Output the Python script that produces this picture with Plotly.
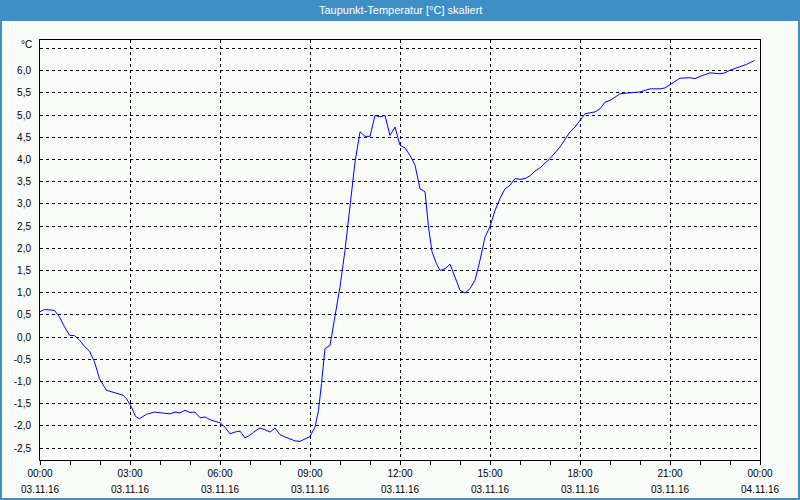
import pandas as pd
import plotly.graph_objects as go

# Data: minutes after 03.11.16 00:00, dew point in °C
minutes = [0, 9, 29, 39, 49, 59, 69, 79, 89, 99, 109, 119, 133, 149, 166, 173, 183, 191, 199, 213,
           229, 243, 260, 270, 280, 290, 300, 310, 320, 330, 340, 350, 360, 370, 380, 390, 400, 410,
           420, 430, 440, 450, 460, 470, 480, 490, 500, 510, 520, 530, 540, 550, 557, 563, 570, 580,
           590, 600, 610, 620, 630, 640, 650, 660, 670, 680, 690, 700, 710, 720, 730, 740, 750, 760,
           770, 777, 784, 793, 800, 810, 820, 830, 840, 850, 860, 870, 880, 890, 900, 910, 920, 930,
           940, 950, 960, 970, 980, 990, 1000, 1020, 1040, 1060, 1070, 1080, 1090, 1110, 1120, 1130,
           1140, 1150, 1160, 1180, 1200, 1220, 1240, 1250, 1260, 1280, 1300, 1310, 1320, 1340, 1360,
           1370, 1380, 1400, 1413, 1429]
values = [0.57, 0.62, 0.60, 0.45, 0.23, 0.04, 0.03, -0.07, -0.21, -0.32, -0.56, -0.94, -1.20, -1.26,
          -1.31, -1.39, -1.58, -1.79, -1.84, -1.74, -1.69, -1.71, -1.73, -1.69, -1.71, -1.65, -1.70,
          -1.69, -1.82, -1.80, -1.86, -1.90, -1.93, -2.03, -2.18, -2.14, -2.12, -2.27, -2.21, -2.12,
          -2.05, -2.09, -2.14, -2.05, -2.20, -2.25, -2.29, -2.34, -2.35, -2.30, -2.24, -2.03, -1.65,
          -1.05, -0.26, -0.19, 0.45, 1.13, 1.95, 2.93, 3.94, 4.62, 4.52, 4.52, 4.99, 4.96, 4.99, 4.54,
          4.73, 4.32, 4.26, 4.09, 3.87, 3.34, 3.27, 2.48, 1.92, 1.65, 1.50, 1.54, 1.64, 1.35, 1.05,
          0.99, 1.09, 1.28, 1.73, 2.25, 2.49, 2.85, 3.12, 3.34, 3.42, 3.57, 3.55, 3.57, 3.63, 3.74,
          3.81, 4.02, 4.28, 4.62, 4.73, 4.88, 5.03, 5.07, 5.14, 5.29, 5.33, 5.40, 5.48, 5.50, 5.52,
          5.59, 5.59, 5.61, 5.69, 5.83, 5.84, 5.82, 5.87, 5.95, 5.93, 5.95, 6.01, 6.08, 6.14, 6.23]

y_ticks = [-2.5, -2.0, -1.5, -1.0, -0.5, 0.0, 0.5, 1.0, 1.5, 2.0, 2.5, 3.0, 3.5, 4.0, 4.5, 5.0, 5.5, 6.0]
y_labels = [f"{v:.1f}".replace(".", ",") for v in y_ticks]
title_text = "Taupunkt-Temperatur [°C] skaliert"
unit_text = "°C"

start = pd.Timestamp("2016-11-03 00:00")
x = [start + pd.Timedelta(minutes=m) for m in minutes]
x_ticks = [start + pd.Timedelta(hours=h) for h in range(0, 25, 3)]
x_time_labels = [t.strftime("%H:%M") for t in x_ticks]
x_date_labels = [t.strftime("%d.%m.%y") for t in x_ticks]

BG = "#fafcfa"
BLUE = "#3d8fc6"
FONT = "Liberation Sans"

fig = go.Figure()
fig.add_trace(go.Scatter(x=x, y=values, mode="lines",
                         line=dict(color="#0000ff", width=1), hoverinfo="skip"))

fig.update_layout(
    width=800, height=500,
    margin=dict(l=40, r=40, t=40, b=40),
    paper_bgcolor=BG, plot_bgcolor=BG,
    showlegend=False,
    font=dict(family=FONT, size=10, color="#000000"),
)

fig.update_xaxes(
    range=[x_ticks[0], x_ticks[-1]],
    tickmode="array", tickvals=x_ticks, ticktext=x_time_labels,
    ticks="outside", ticklen=4, tickcolor="#000000",
    minor=dict(dtick=3600000, ticks="outside", ticklen=4, tickcolor="#000000", showgrid=False),
    showgrid=True, gridcolor="#000000", gridwidth=1, griddash="3px,3px",
    showline=True, linecolor="#000000", linewidth=1, mirror=True,
    zeroline=False, ticklabelstandoff=0,
)
fig.update_yaxes(
    range=[-2.77, 6.69],
    tickmode="array", tickvals=y_ticks + [6.5], ticktext=y_labels + [""],
    ticks="", ticklabelstandoff=6,
    showgrid=True, gridcolor="#000000", gridwidth=1, griddash="3px,3px",
    showline=True, linecolor="#000000", linewidth=1, mirror=True,
    zeroline=False,
)

# title bar and window frame
fig.add_shape(type="rect", xref="paper", yref="paper",
              x0=-40 / 720, x1=1 + 40 / 720, y0=1 + 20 / 420, y1=1 + 40 / 420,
              fillcolor=BLUE, line=dict(width=0), layer="below")
fig.add_shape(type="rect", xref="paper", yref="paper",
              x0=-40 / 720 + 1 / 720, x1=1 + 40 / 720 - 1 / 720, y0=-40 / 420 + 1 / 420, y1=1 + 20 / 420,
              fillcolor="rgba(0,0,0,0)", line=dict(color=BLUE, width=2))
fig.add_annotation(text=title_text, xref="paper", yref="paper", x=0.5, y=1 + 30 / 420,
                   showarrow=False, xanchor="center", yanchor="middle",
                   font=dict(family=FONT, size=11, color="#ffffff"))
fig.add_annotation(text=unit_text, xref="paper", yref="y", x=0, y=6.58, xshift=-6,
                   showarrow=False, xanchor="right", yanchor="middle",
                   font=dict(family=FONT, size=10, color="#000000"))
for t, lab in zip(x_ticks, x_date_labels):
    fig.add_annotation(text=lab, xref="x", yref="paper", x=t, y=-29 / 420,
                       showarrow=False, xanchor="center", yanchor="middle",
                       font=dict(family=FONT, size=10, color="#000000"))

fig.write_html("out.html")
